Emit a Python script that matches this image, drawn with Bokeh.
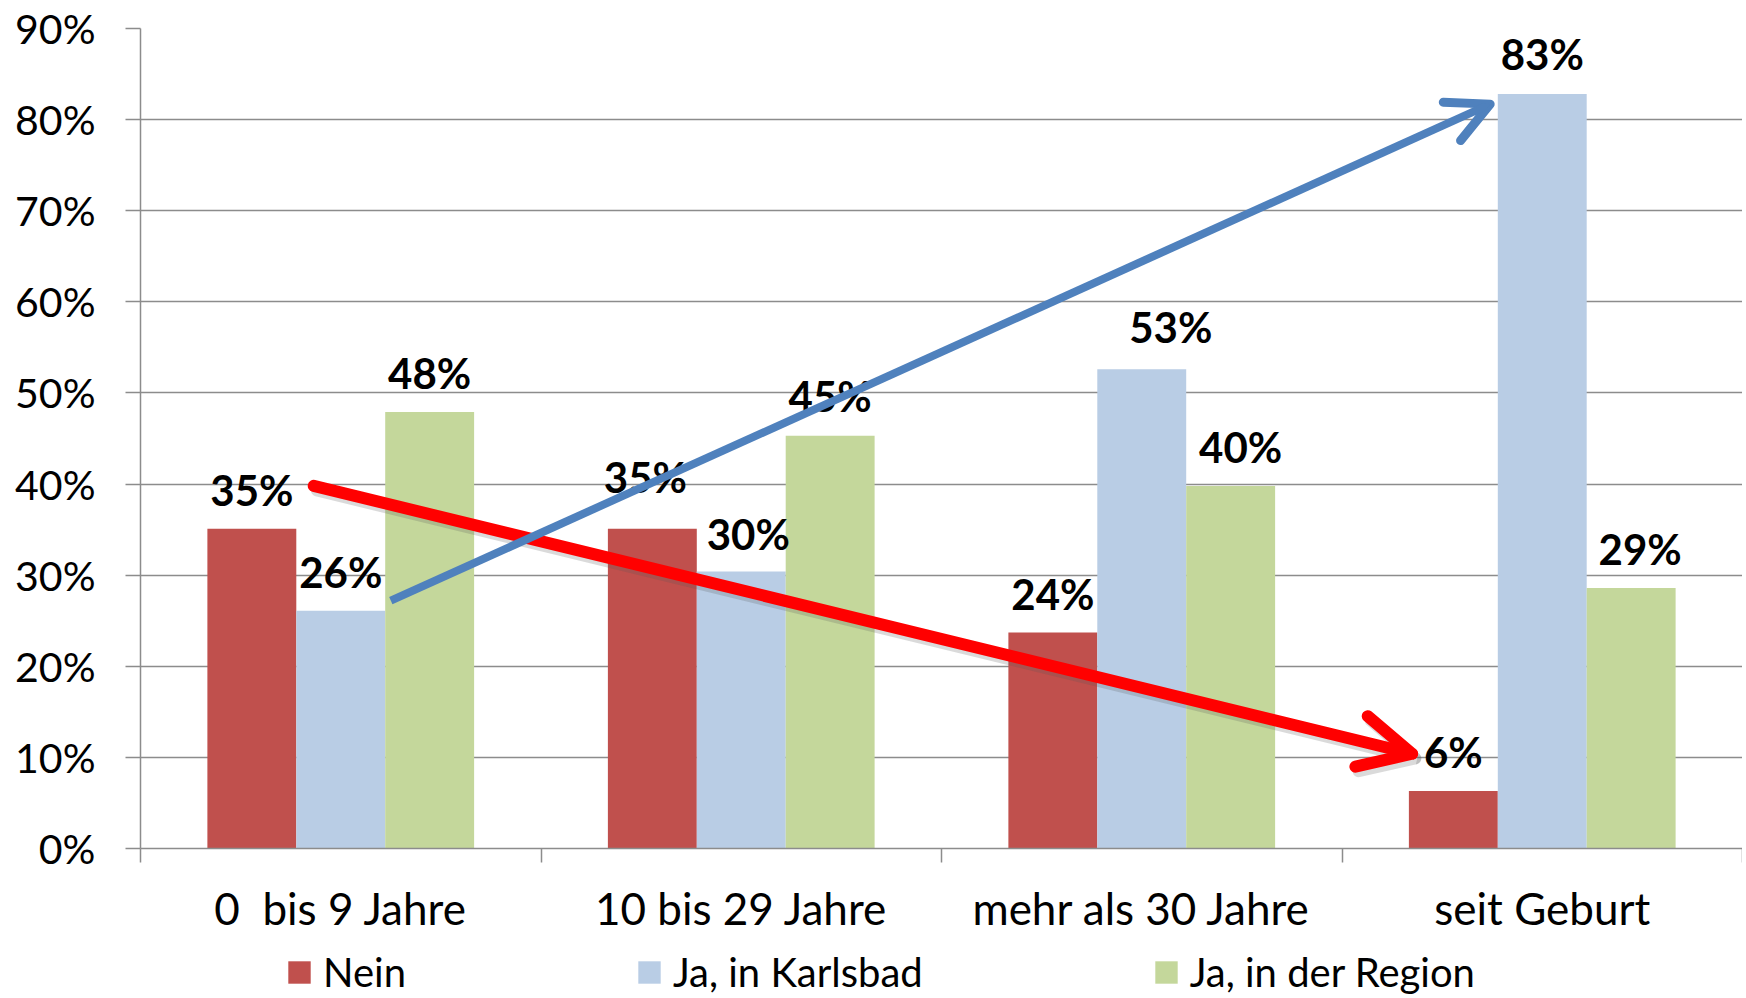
from bokeh.plotting import figure
from bokeh.layouts import column
from bokeh.models import (ColumnDataSource, Range1d, FixedTicker, PrintfTickFormatter,
                          Legend, LegendItem, Arrow, OpenHead)
from bokeh.transform import dodge
from bokeh.core.properties import value
from bokeh.embed import file_html
from bokeh.resources import INLINE

# ---- data ----
categories = ["0  bis 9 Jahre", "10 bis 29 Jahre", "mehr als 30 Jahre", "seit Geburt"]
series_names = ["Nein", "Ja, in Karlsbad", "Ja, in der Region"]
nein = [35.1, 35.1, 23.7, 6.3]
karlsbad = [26.1, 30.4, 52.6, 82.8]
region = [47.9, 45.3, 39.8, 28.6]
y_ticks = [0, 10, 20, 30, 40, 50, 60, 70, 80, 90]

# ---- styling / annotation geometry (not data) ----
colors = ["#C0504D", "#B9CDE5", "#C4D79B"]
bar_w = 0.222
offsets = [-bar_w, 0.0, bar_w]
# pixel nudges of the data labels (as placed in the original)
label_dx = [[0, 0, 0], [-7, 7, 0], [0, 29, 10], [0, 0, 9]]
label_dy = [[-39, -39, -39], [-52, -38, -40], [-39, -42, -39], [-39, -40, -39]]
red_arrow = (0.4325, 39.8, 3.175, 10.4)
blue_arrow = (0.625, 27.2, 3.37, 81.7)

FONT = "Lato"
W = 1742

centers = [i + 0.5 for i in range(len(categories))]
src = ColumnDataSource(dict(x=centers, nein=nein, karlsbad=karlsbad, region=region))

p = figure(width=W, height=946, output_backend="svg", toolbar_location=None,
           x_range=Range1d(0, len(categories)), y_range=Range1d(0, 90),
           min_border_left=140, min_border_right=0, min_border_top=28,
           min_border_bottom=98)
p.outline_line_color = None
p.background_fill_color = "white"

series_cols = ["nein", "karlsbad", "region"]
for col, off, c in zip(series_cols, offsets, colors):
    p.vbar(x=dodge("x", off), top=col, width=bar_w, source=src,
           fill_color=c, line_color=None)

# data labels
for j, (col, off) in enumerate(zip(series_cols, offsets)):
    vals = src.data[col]
    for i, v in enumerate(vals):
        p.text(x=[centers[i] + off], y=[v], text=[f"{round(v)}%"],
               x_offset=label_dx[i][j], y_offset=label_dy[i][j],
               text_font=value(FONT), text_font_style="bold",
               text_font_size="42px", text_color="black",
               text_align="center", text_baseline="middle")

# grid
p.xgrid.grid_line_color = None
p.ygrid.grid_line_color = "#8C8C8C"
p.ygrid.grid_line_width = 1.5

# y axis
p.yaxis.ticker = FixedTicker(ticks=y_ticks)
p.yaxis.formatter = PrintfTickFormatter(format="%d%%")
p.yaxis.major_label_text_font = FONT
p.yaxis.major_label_text_font_size = "41px"
p.yaxis.major_label_text_color = "black"
p.yaxis.major_tick_out = 15
p.yaxis.major_tick_in = 0
p.yaxis.minor_tick_line_color = None
p.yaxis.major_tick_line_color = "#8C8C8C"
p.yaxis.major_tick_line_width = 1.5
p.yaxis.axis_line_color = "#8C8C8C"
p.yaxis.axis_line_width = 1.5
p.yaxis.major_label_standoff = 30

# x axis: labels at category centers, tick marks at category boundaries
p.xaxis.ticker = FixedTicker(ticks=centers, minor_ticks=list(range(len(categories) + 1)))
p.xaxis.major_label_overrides = {c: name.replace("  ", "\u00a0 ") for c, name in zip(centers, categories)}
p.xaxis.major_label_text_font = FONT
p.xaxis.major_label_text_font_size = "44px"
p.xaxis.major_label_text_color = "black"
p.xaxis.major_tick_out = 0
p.xaxis.major_tick_in = 0
p.xaxis.minor_tick_out = 14
p.xaxis.minor_tick_in = 0
p.xaxis.minor_tick_line_color = "#8C8C8C"
p.xaxis.minor_tick_line_width = 1.5
p.xaxis.axis_line_color = "#8C8C8C"
p.xaxis.axis_line_width = 1.5
p.xaxis.major_label_standoff = 19

# arrows (red first with a soft shadow, blue on top)
sx0, sy0, sx1, sy1 = red_arrow
p.add_layout(Arrow(x_start=sx0 + 0.008, y_start=sy0 - 0.5, x_end=sx1 + 0.008, y_end=sy1 - 0.5,
                   line_color="#555555", line_alpha=0.22, line_width=12, line_cap="round",
                   end=OpenHead(size=52, line_color="#555555", line_alpha=0.22,
                                line_width=12, line_cap="round", line_join="round")))
p.add_layout(Arrow(x_start=sx0, y_start=sy0, x_end=sx1, y_end=sy1,
                   line_color="#FF0000", line_width=12, line_cap="round",
                   end=OpenHead(size=52, line_color="#FF0000", line_width=12,
                                line_cap="round", line_join="round")))
bx0, by0, bx1, by1 = blue_arrow
p.add_layout(Arrow(x_start=bx0, y_start=by0, x_end=bx1, y_end=by1,
                   line_color="#4F81BD", line_width=8,
                   end=OpenHead(size=42, line_color="#4F81BD", line_width=9,
                                line_cap="round", line_join="round")))

# legend strip (separate figure so the legend is not clipped by the plot frame)
lg = figure(width=W, height=50, output_backend="svg", toolbar_location=None,
            x_range=Range1d(0, 1), y_range=Range1d(0, 1),
            x_axis_type=None, y_axis_type=None,
            min_border_left=0, min_border_right=0, min_border_top=0, min_border_bottom=0)
lg.outline_line_color = None
lg.xgrid.grid_line_color = None
lg.ygrid.grid_line_color = None
# legend proxies: one placeholder row of NaN so the swatch can be drawn, nothing plotted
proxy = ColumnDataSource(dict(x=[float("nan")], top=[float("nan")]))
leg_renderers = [lg.vbar(x="x", top="top", width=0.1, source=proxy, fill_color=c, line_color=None)
                 for c in colors]
legend = Legend(items=[LegendItem(label=n, renderers=[r]) for n, r in zip(series_names, leg_renderers)],
                orientation="horizontal", location=(145, 0),
                label_text_font=FONT, label_text_font_size="40px", label_text_color="black",
                glyph_width=28, glyph_height=28, label_standoff=10, spacing=229,
                padding=0, margin=0, border_line_color=None, background_fill_alpha=0)
lg.add_layout(legend, "center")

layout = column(p, lg, spacing=0)
open("out.html", "w").write(file_html(layout, INLINE))
